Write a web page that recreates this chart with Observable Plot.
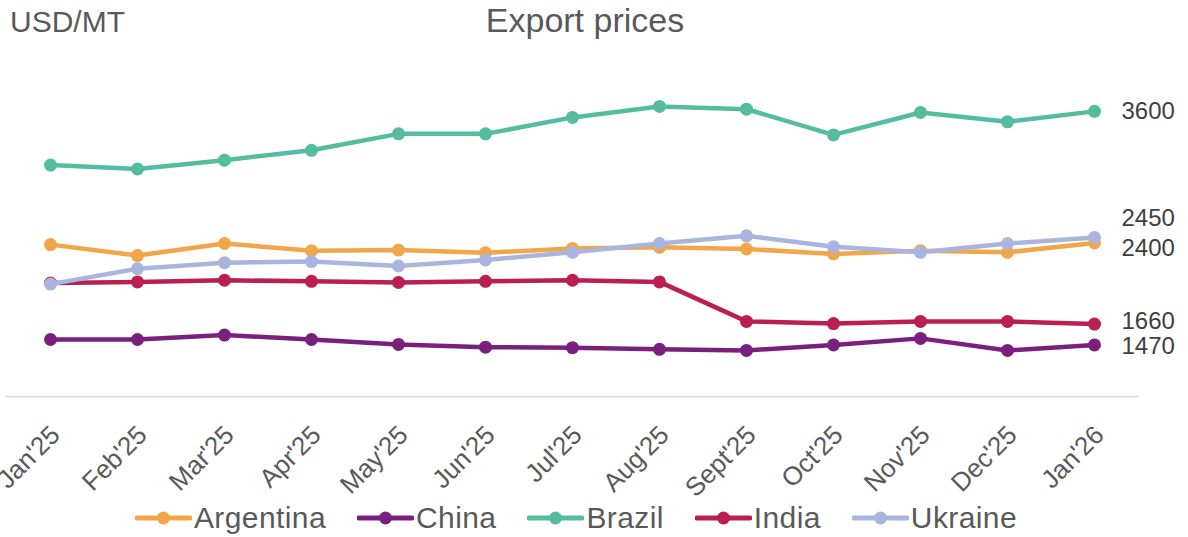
<!DOCTYPE html>
<html><head><meta charset="utf-8">
<script src="https://cdn.jsdelivr.net/npm/d3@7"></script>
<script src="https://cdn.jsdelivr.net/npm/@observablehq/plot@0.6"></script>
<style>
body{margin:0;background:#fff;width:1188px;height:537px;overflow:hidden;position:relative;font-family:"Liberation Sans",Arial,sans-serif;}
#chart{position:absolute;left:0;top:0;}
#unit{position:absolute;left:10px;top:5px;font-size:30px;color:#595959;}
#title{position:absolute;left:0;width:1170px;text-align:center;top:1px;font-size:34px;color:#595959;}
#legend{position:absolute;top:501px;left:0;width:1152px;display:flex;justify-content:center;gap:31px;font-size:30px;letter-spacing:0.4px;color:#595959;}
.item{display:flex;align-items:center;gap:2px;}
</style></head><body>
<div id="chart"></div>
<div id="unit">USD/MT</div>
<div id="title">Export prices</div>
<div id="legend"></div>
<script>
const months = ["Jan'25","Feb'25","Mar'25","Apr'25","May'25","Jun'25","Jul'25","Aug'25","Sept'25","Oct'25","Nov'25","Dec'25","Jan'26"];
const seriesNames = ["Argentina","China","Brazil","India","Ukraine"];
const seriesColors = ["#F2A64A","#7A1F7D","#55BC9F","#BA1F51","#A9B5DF"];
const argentina = [2385,2285,2395,2330,2335,2310,2350,2360,2345,2300,2330,2315,2400];
const china     = [1520,1520,1560,1520,1475,1450,1445,1430,1420,1470,1530,1420,1470];
const brazil    = [3110,3075,3155,3245,3395,3395,3545,3645,3620,3385,3590,3505,3600];
const india     = [2035,2045,2060,2050,2040,2050,2060,2045,1685,1665,1685,1685,1660];
const ukraine   = [2025,2165,2220,2230,2190,2245,2315,2395,2465,2365,2315,2395,2450];
const seriesValues = [argentina, china, brazil, india, ukraine];

const rows = seriesNames.map((name, i) => months.map((m, j) => ({series: name, month: m, value: seriesValues[i][j]})));
const lastRows = rows.map(r => r[r.length - 1]);

const labelFont = "'Liberation Sans', Arial, sans-serif";
const marks = [
  Plot.ruleY([1000], {stroke: "#d9d9d9", strokeWidth: 1.5}),
  Plot.text(months, {x: d => d, frameAnchor: "bottom", dy: 40, dx: 11, rotate: -45, textAnchor: "end", fontSize: 26, fill: "#595959", fontFamily: labelFont})
];
rows.forEach((r, i) => {
  marks.push(Plot.line(r, {x: "month", y: "value", stroke: seriesColors[i], strokeWidth: 4.5, strokeLinejoin: "round"}));
  marks.push(Plot.dot(r, {x: "month", y: "value", fill: seriesColors[i], r: 6.5}));
});
const labelShift = {Ukraine: -19, Argentina: 5, India: -3, China: 1};
lastRows.forEach(d => {
  marks.push(Plot.text([d], {x: "month", y: "value", text: d => String(d.value), dx: 27, dy: labelShift[d.series] || 0, textAnchor: "start", fontSize: 24, letterSpacing: 1, fill: "#404040", fontFamily: labelFont, style: {letterSpacing: "1px"}}));
});

const chart = Plot.plot({
  width: 1188, height: 537,
  marginLeft: 5, marginRight: 49, marginTop: 67, marginBottom: 141,
  x: {type: "point", domain: months, padding: 0.5, axis: null},
  y: {domain: [1000, 4000], axis: null},
  style: {background: "transparent", overflow: "visible"},
  marks
});
document.getElementById("chart").appendChild(chart);

const legend = document.getElementById("legend");
seriesNames.forEach((name, i) => {
  const item = document.createElement("div");
  item.className = "item";
  item.innerHTML = `<svg width="57" height="20"><line x1="2" y1="10" x2="55" y2="10" stroke="${seriesColors[i]}" stroke-width="5" stroke-linecap="round"/><circle cx="28.5" cy="10" r="6.5" fill="${seriesColors[i]}"/></svg><span>${name}</span>`;
  legend.appendChild(item);
});
</script>
</body></html>
